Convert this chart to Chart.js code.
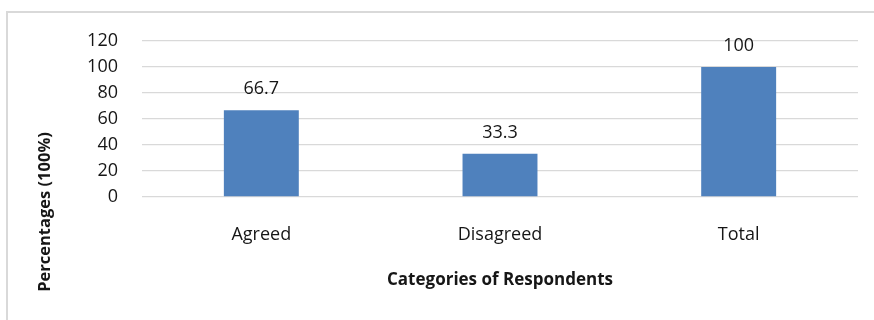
<!DOCTYPE html>
<html>
<head>
<meta charset="utf-8">
<script src="https://cdn.jsdelivr.net/npm/chart.js@4.4.1/dist/chart.umd.min.js"></script>
<style>
  html, body { margin: 0; padding: 0; background: #fff; overflow: hidden; }
  #wrap { position: relative; width: 874px; height: 320px; }
  #frame {
    position: absolute; left: 6px; top: 11px; width: 900px; height: 400px;
    border: 2px solid #d9d9d9; box-sizing: border-box;
  }
  canvas { position: absolute; left: 0; top: 0; }
</style>
</head>
<body>
<div id="wrap">
  <div id="frame"></div>
  <canvas id="chart" width="874" height="320"></canvas>
</div>
<script>
const categories = ['Agreed', 'Disagreed', 'Total'];
const percentages = [66.7, 33.3, 100];
const yTicks = [0, 20, 40, 60, 80, 100, 120];

const FONT = "'Open Sans', 'DejaVu Sans', sans-serif";
const TEXT = '#161616';

// values above each bar, and both axis titles
const labelsPlugin = {
    id: 'labels',
    afterDatasetsDraw(chart) {
        const ctx = chart.ctx;
        const meta = chart.getDatasetMeta(0);
        ctx.save();
        ctx.font = `18px ${FONT}`;
        ctx.fillStyle = TEXT;
        ctx.textAlign = 'center';
        ctx.textBaseline = 'middle';
        meta.data.forEach((bar, i) => {
            ctx.fillText(String(percentages[i]), bar.x, bar.y - 21);
        });
        ctx.restore();
    },
    afterDraw(chart) {
        const ctx = chart.ctx;
        const area = chart.chartArea;
        ctx.save();
        ctx.font = `bold 17px ${FONT}`;
        ctx.fillStyle = TEXT;
        ctx.textAlign = 'center';
        ctx.textBaseline = 'middle';
        ctx.fillText('Categories of Respondents', (area.left + area.right) / 2, area.bottom + 83);
        ctx.font = `bold 16.5px ${FONT}`;
        ctx.translate(45, area.bottom + 15);
        ctx.rotate(-Math.PI / 2);
        ctx.fillText('Percentages (100%)', 0, 0);
        ctx.restore();
    }
};

new Chart(document.getElementById('chart').getContext('2d'), {
    type: 'bar',
    data: {
        labels: categories,
        datasets: [{
            data: percentages,
            backgroundColor: '#4f81bd',
            borderWidth: 0,
            categoryPercentage: 1,
            barPercentage: 0.314
        }]
    },
    options: {
        responsive: false,
        animation: false,
        layout: { padding: { left: 0, right: 16, top: 41, bottom: 0 } },
        plugins: {
            legend: { display: false },
            tooltip: { enabled: false }
        },
        scales: {
            x: {
                afterFit: scale => { scale.height = 123; },
                grid: { display: false, drawTicks: false },
                border: { display: false },
                ticks: { color: TEXT, font: { family: FONT, size: 18 }, padding: 27 }
            },
            y: {
                min: 0,
                max: 120,
                afterFit: scale => { scale.width = 142; },
                afterBuildTicks: scale => { scale.ticks = yTicks.map(v => ({ value: v })); },
                grid: { color: '#d9d9d9', lineWidth: 1.3, drawTicks: false },
                border: { display: false },
                ticks: { color: TEXT, font: { family: FONT, size: 18 }, padding: 24 }
            }
        }
    },
    plugins: [labelsPlugin]
});
</script>
</body>
</html>
